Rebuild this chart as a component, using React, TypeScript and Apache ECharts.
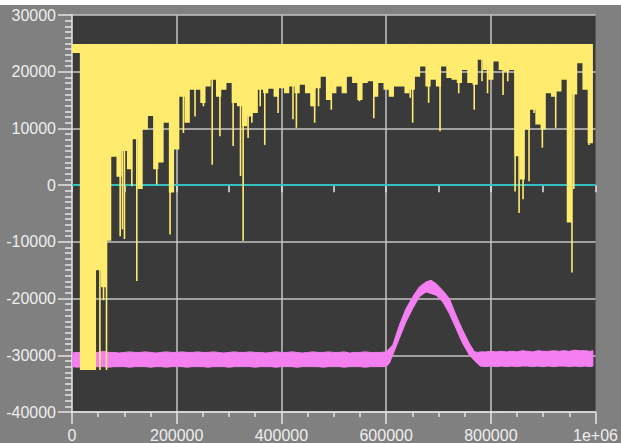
import React, { useEffect, useRef } from "react";
import * as echarts from "echarts";

// ---- axis ticks ----
const X_MIN = 0;
const X_MAX = 1000000;
const X_INTERVAL = 200000;
const Y_MIN = -40000;
const Y_MAX = 30000;
const Y_INTERVAL = 10000;

// ---- yellow signal: flat top, lower edge of the dense mass (sampled each 10000), and thin spikes ----
const SIGNAL_TOP = 24900;
const bodyX = [
  0, 10000, 20000, 30000, 40000, 50000, 60000, 70000, 80000, 90000,
  100000, 110000, 120000, 130000, 140000, 150000, 160000, 170000, 180000, 190000,
  200000, 210000, 220000, 230000, 240000, 250000, 260000, 270000, 280000, 290000,
  300000, 310000, 320000, 330000, 340000, 350000, 360000, 370000, 380000, 390000,
  400000, 410000, 420000, 430000, 440000, 450000, 460000, 470000, 480000, 490000,
  500000, 510000, 520000, 530000, 540000, 550000, 560000, 570000, 580000, 590000,
  600000, 610000, 620000, 630000, 640000, 650000, 660000, 670000, 680000, 690000,
  700000, 710000, 720000, 730000, 740000, 750000, 760000, 770000, 780000, 790000,
  800000, 810000, 820000, 830000, 840000, 850000, 860000, 870000, 880000, 890000,
  900000, 910000, 920000, 930000, 940000, 950000, 960000, 970000, 980000, 990000,
];
const bodyLow = [
  23300, 23300, -32600, -32600, -32600, -15000, -18000, -9800, 5000, 1500,
  6000, 2800, 8100, -700, 9800, 12200, 2800, 4000, 11000, -1300,
  6300, 15600, 11000, 16800, 16800, 14500, 17400, 18600, 15600, 16800,
  18000, 14500, 13900, 10400, 12100, 12700, 16800, 16200, 17000, 15600,
  17100, 16200, 17400, 16200, 17700, 16200, 13900, 17100, 19100, 15000,
  16200, 17400, 16200, 19100, 18000, 15000, 18000, 18300, 15600, 18000,
  16800, 15600, 17400, 17400, 16200, 16800, 19100, 20900, 17400, 18600,
  17400, 20900, 18900, 18600, 18000, 20300, 18000, 17700, 22100, 20300,
  18600, 21800, 20300, 20000, 20300, 5100, 1000, 9800, 13300, 10700,
  9800, 16200, 15600, 16500, 18600, -6600, 16000, 21500, 16800, 7400,
];
const spikeX = [
  44400, 53300, 60200, 65900, 92000, 96400, 100200, 114300, 123800, 161900,
  187300, 212800, 235000, 251000, 267800, 282500, 307800, 321900, 326900, 336400,
  343500, 359500, 368200, 393600, 422100, 428600, 458200, 463500, 470900, 495300,
  549200, 576500, 646100, 650700, 681200, 703000, 738700, 768300, 783200, 793700,
  823400, 832300, 846400, 854000, 861600, 873000, 882600, 898400, 923900, 955000,
  958500, 987400,
];
const spikeLow = [
  -32600, -32600, -20300, -32600, -9000, -7800, -9500, -200, -16900, 100,
  -8700, 9200, 12100, 13900, 3600, 8600, 6900, 1600, -9800, 8300,
  11000, 13900, 7100, 12700, 11600, 10100, 13900, 11000, 13900, 13300,
  14800, 11800, 15400, 11000, 14500, 9500, 16200, 13300, 18300, 16200,
  15900, 18300, -1100, -4900, -2500, 700, 12700, 6600, 10100, -15400,
  -700, 7100,
];

// ---- violet band: upper and lower edge ----
const bandX = [
  0, 10000, 20000, 30000, 40000, 50000, 60000, 70000, 80000, 90000,
  100000, 110000, 120000, 130000, 140000, 150000, 160000, 170000, 180000, 190000,
  200000, 210000, 220000, 230000, 240000, 250000, 260000, 270000, 280000, 290000,
  300000, 310000, 320000, 330000, 340000, 350000, 360000, 370000, 380000, 390000,
  400000, 410000, 420000, 430000, 440000, 450000, 460000, 470000, 480000, 490000,
  500000, 510000, 520000, 530000, 540000, 550000, 560000, 570000, 580000, 590000,
  600000, 606400, 612700, 625400, 638100, 650800, 663500, 676200, 685800, 695300,
  708000, 720700, 733400, 746100, 758800, 768300, 774700, 780000,
  790000, 800000, 810000, 820000, 830000, 840000, 850000, 860000, 870000, 880000,
  890000, 900000, 910000, 920000, 930000, 940000, 950000, 960000, 970000, 980000,
  990000, 995000,
];
const bandTop = [
  -29600, -29500, -29500, -29400, -29500, -29500, -29300, -29500, -29500, -29600,
  -29500, -29400, -29500, -29500, -29400, -29500, -29600, -29500, -29400, -29500,
  -29500, -29400, -29500, -29500, -29400, -29500, -29500, -29400, -29500, -29600,
  -29500, -29400, -29500, -29500, -29400, -29500, -29500, -29600, -29500, -29400,
  -29500, -29500, -29400, -29500, -29600, -29500, -29400, -29500, -29500, -29400,
  -29500, -29500, -29400, -29600, -29500, -29500, -29400, -29500, -29500, -29500,
  -29400, -28800, -28170, -24670, -21740, -19700, -17940, -17070, -16770, -17360,
  -18530, -19990, -22910, -25540, -27880, -29340, -29500, -29400,
  -29400, -29300, -29400, -29300, -29400, -29300, -29400, -29200, -29300, -29400,
  -29200, -29300, -29300, -29200, -29300, -29200, -29300, -29100, -29200, -29200,
  -29300, -29200,
];
const bandBottom = [
  -32000, -32100, -32000, -32000, -32100, -32000, -32000, -32100, -32000, -32000,
  -32000, -32100, -32000, -32000, -32000, -32100, -32000, -32000, -32100, -32000,
  -32000, -32000, -32100, -32000, -32000, -32000, -32100, -32000, -32000, -32000,
  -32100, -32000, -32000, -32000, -32000, -32100, -32000, -32000, -32000, -32100,
  -32000, -32000, -32000, -32100, -32000, -32000, -32000, -32000, -32100, -32000,
  -32000, -32000, -32100, -32000, -32000, -32000, -32100, -32000, -32000, -32000,
  -31970, -31390, -29930, -27010, -24080, -21740, -19700, -18820, -19110, -19400,
  -20570, -22620, -25250, -27880, -29930, -30900, -31500, -31900,
  -32000, -31900, -32000, -31900, -32000, -31900, -32000, -31900, -31900, -32000,
  -31900, -32000, -31900, -32000, -31900, -31900, -32000, -31900, -32000, -31900,
  -32000, -31900,
];

// ---- zero reference line ----
const zeroLineX = [0, 1000000];
const zeroLineY = [0, 0];

const YELLOW = "#ffec6e";
const VIOLET = "#f47ff0";
const CYAN = "#22c6c6";
const GRID = "#c4c4c4";
const AXIS = "#e4e4e4";
const TEXT = "#eeeeee";
const FONT = "Liberation Sans";

export default function App() {
  const ref = useRef<HTMLDivElement>(null);

  useEffect(() => {
    document.body.style.margin = "0";
    if (!ref.current) return;
    const chart = echarts.init(ref.current, undefined, { renderer: "svg" });

    const halfStep = 5000;
    const bodyPoints: number[][] = [[0, SIGNAL_TOP]];
    bodyX.forEach((x, i) => {
      bodyPoints.push([Math.max(X_MIN, x - halfStep), bodyLow[i]]);
      bodyPoints.push([Math.min(X_MAX, x + halfStep), bodyLow[i]]);
    });
    bodyPoints.push([Math.min(X_MAX, bodyX[bodyX.length - 1] + halfStep), SIGNAL_TOP]);

    const bandPoints: number[][] = [];
    bandX.forEach((x, i) => bandPoints.push([x, bandTop[i]]));
    for (let i = bandX.length - 1; i >= 0; i--) bandPoints.push([bandX[i], bandBottom[i]]);

    const labelStyle = { color: TEXT, fontFamily: FONT, fontSize: 16 };

    const option: any = {
      animation: false,
      backgroundColor: "#808080",
      grid: {
        left: 72,
        right: 24.5,
        top: 10,
        bottom: 29,
        show: true,
        backgroundColor: "#3a3a3a",
        borderWidth: 0,
      },
      xAxis: [
        {
          type: "value",
          min: X_MIN,
          max: X_MAX,
          interval: X_INTERVAL,
          position: "bottom",
          axisLine: { show: true, onZero: false, lineStyle: { color: AXIS, width: 1.5 } },
          axisTick: { show: true, length: 12, lineStyle: { color: AXIS, width: 1.5 } },
          minorTick: { show: true, splitNumber: 4, length: 5, lineStyle: { color: AXIS, width: 1.5 } },
          axisLabel: {
            ...labelStyle,
            margin: 15,
            formatter: (v: number) => (v === 1000000 ? "1e+06" : String(v)),
          },
          splitLine: { show: true, showMinLine: false, showMaxLine: false, lineStyle: { color: GRID, width: 1.5 } },
        },
        {
          type: "value",
          min: X_MIN,
          max: X_MAX,
          interval: 100000,
          position: "bottom",
          axisLine: { show: false },
          axisTick: { show: true, length: 7, lineStyle: { color: AXIS, width: 1.5 } },
          axisLabel: { show: false },
          splitLine: { show: false },
        },
      ],
      yAxis: {
        type: "value",
        min: Y_MIN,
        max: Y_MAX,
        interval: Y_INTERVAL,
        axisLine: { show: true, onZero: false, lineStyle: { color: AXIS, width: 1.5 } },
        axisTick: { show: true, length: 14, lineStyle: { color: AXIS, width: 1.5 } },
        minorTick: { show: true, splitNumber: 10, length: 7, lineStyle: { color: AXIS, width: 1.5 } },
        axisLabel: { ...labelStyle, margin: 16, formatter: (v: number) => String(v) },
        splitLine: { show: true, lineStyle: { color: GRID, width: 1.5 } },
      },
      series: [
        {
          type: "line",
          data: zeroLineX.map((x, i) => [x, zeroLineY[i]]),
          showSymbol: false,
          symbol: "none",
          lineStyle: { color: CYAN, width: 1.6 },
          silent: true,
          z: 2,
        },
        {
          type: "custom",
          data: bandX.map((x, i) => [x, bandTop[i], bandBottom[i]]),
          encode: { x: 0, y: [1, 2] },
          clip: true,
          silent: true,
          z: 3,
          renderItem: (params: any, api: any) => {
            if (params.dataIndex !== 0) return null;
            return {
              type: "polygon",
              shape: { points: bandPoints.map((p) => api.coord(p)) },
              style: { fill: VIOLET, stroke: VIOLET, lineWidth: 1 },
            };
          },
        },
        {
          type: "custom",
          data: bodyX.map((x, i) => [x, bodyLow[i]]),
          encode: { x: 0, y: 1 },
          clip: true,
          silent: true,
          z: 4,
          renderItem: (params: any, api: any) => {
            if (params.dataIndex !== 0) return null;
            return {
              type: "polygon",
              shape: { points: bodyPoints.map((p) => api.coord(p)) },
              style: { fill: YELLOW },
            };
          },
        },
        {
          type: "custom",
          data: spikeX.map((x, i) => [x, spikeLow[i]]),
          encode: { x: 0, y: 1 },
          clip: true,
          silent: true,
          z: 4,
          renderItem: (params: any, api: any) => {
            const x = api.value(0);
            const low = api.value(1);
            const p0 = api.coord([x, SIGNAL_TOP]);
            const p1 = api.coord([x, low]);
            return {
              type: "line",
              shape: { x1: p0[0], y1: p0[1], x2: p1[0], y2: p1[1] },
              style: { stroke: YELLOW, lineWidth: 1.6 },
            };
          },
        },
      ],
    };

    chart.setOption(option);
    return () => chart.dispose();
  }, []);

  return (
    <div style={{ width: 621, height: 443, background: "#ffffff", paddingTop: 5, boxSizing: "border-box" }}>
      <div ref={ref} style={{ width: 621, height: 438 }} />
    </div>
  );
}
